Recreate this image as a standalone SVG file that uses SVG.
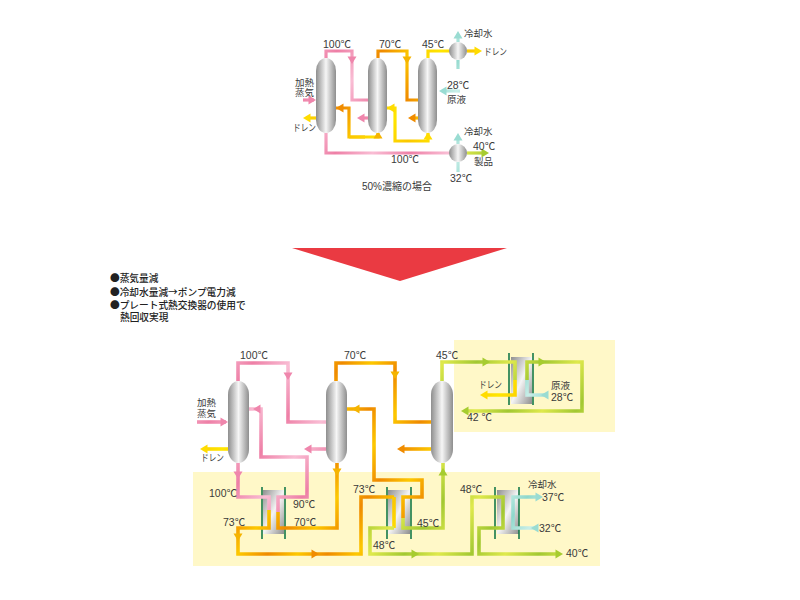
<svg xmlns="http://www.w3.org/2000/svg" width="800" height="600" viewBox="0 0 800 600">
<style>
text{font-family:"Liberation Sans","Noto Sans CJK JP",sans-serif;font-size:10.5px;fill:#3a3a3a}
.j{font-family:"Noto Sans CJK JP",sans-serif;font-size:9.5px}
.k{font-family:"Noto Sans CJK JP",sans-serif;font-size:9.5px}
.b{font-family:"Noto Sans CJK JP",sans-serif;font-size:9.7px;font-weight:500;fill:#222}
path.l{fill:none;stroke-width:3.2}
#lower path.l{stroke-width:3.6}
.p{stroke:url(#gp)}.o{stroke:url(#go)}.y{stroke:url(#gy)}.g{stroke:url(#gg)}.t{stroke:url(#gt)}
.fp{fill:#ef86ac}.fo{fill:#f08c00}.fy{fill:#ffdc00}.fg{fill:#a6cc30}.ft{fill:#9adcd2}.fa{fill:#f5b400}
.col{fill:url(#metal)}
.plate{fill:url(#plate)}
.bar{stroke:#16794a;stroke-width:1.6}
.bg{fill:#fff8c8}
</style>
<defs>
<linearGradient id="metal" x1="0" x2="1" y1="0" y2="0"><stop offset="0" stop-color="#8e8e8e"/><stop offset=".5" stop-color="#f6f6f6"/><stop offset="1" stop-color="#8e8e8e"/></linearGradient>
<linearGradient id="plate" x1="0" x2="1" y1="0" y2="1"><stop offset="0" stop-color="#8f8f8f"/><stop offset=".5" stop-color="#f4f4f4"/><stop offset="1" stop-color="#8f8f8f"/></linearGradient>
<linearGradient id="gp" gradientUnits="userSpaceOnUse" x1="0" y1="0" x2="24" y2="18" spreadMethod="reflect"><stop offset="0" stop-color="#ee7fa6"/><stop offset="1" stop-color="#f9bdd4"/></linearGradient>
<linearGradient id="go" gradientUnits="userSpaceOnUse" x1="0" y1="0" x2="20" y2="14" spreadMethod="reflect"><stop offset="0" stop-color="#ef8a00"/><stop offset="1" stop-color="#fdc800"/></linearGradient>
<linearGradient id="gy" gradientUnits="userSpaceOnUse" x1="0" y1="0" x2="20" y2="14" spreadMethod="reflect"><stop offset="0" stop-color="#ffe600"/><stop offset="1" stop-color="#fbc800"/></linearGradient>
<linearGradient id="gg" gradientUnits="userSpaceOnUse" x1="0" y1="0" x2="22" y2="16" spreadMethod="reflect"><stop offset="0" stop-color="#a2c832"/><stop offset="1" stop-color="#dfe94c"/></linearGradient>
<linearGradient id="gt" gradientUnits="userSpaceOnUse" x1="0" y1="0" x2="16" y2="12" spreadMethod="reflect"><stop offset="0" stop-color="#8fd8cc"/><stop offset="1" stop-color="#c8eee8"/></linearGradient>
<path id="ah" d="M-3.5,-4.5 L4,0 L-3.5,4.5z"/>
</defs>
<rect width="800" height="600" fill="#fff"/>
<rect class="bg" x="454" y="340" width="161" height="92"/>
<rect class="bg" x="193" y="472" width="407" height="94"/>
<polygon points="292,248 507,248 400,281" fill="#ea3a42"/>

<g id="hx-top"><rect class="plate" x="511" y="357" width="21" height="47"/><path class="bar" d="M509,353V405M533,353V405"/></g>
<g id="hx-1"><rect class="plate" x="263" y="490" width="21" height="44"/><path class="bar" d="M262,487V539M285,487V539"/></g>
<g id="hx-2"><rect class="plate" x="388" y="490" width="22" height="44"/><path class="bar" d="M387,487V539M411,487V539"/></g>
<g id="hx-3"><rect class="plate" x="497" y="490" width="22" height="44"/><path class="bar" d="M495,487V539M519,487V539"/></g>

<g id="connectors">
<g id="upper">
<path class="l p" d="M326,58V51H352V100H368"/>
<path class="l o" d="M378,58V51H407V100H418"/>
<path class="l y" d="M428,58V51H450"/>
<path class="l y" d="M467,51H478"/>
<path class="l t" d="M458,42V36"/><path class="l t" d="M458,60V69"/>
<path class="l t" d="M460,91H442"/>
<path class="l p" d="M303,100H314"/>
<path class="l y" d="M316,118H306"/>
<path class="l o" d="M336,108H349V137H365"/><path class="l y" d="M349,137H378V133"/>
<path class="l p" d="M368,118H360"/>
<path class="l y" d="M387,108H395V141H428V133"/>
<path class="l o" d="M418,118H411"/>
<path class="l p" d="M326,133V153H450"/>
<path class="l g" d="M467,153H485"/>
<path class="l t" d="M458,172V162"/><path class="l t" d="M458,144V137"/>
<use href="#ah" class="fp" transform="translate(352,60) rotate(90)"/>
<use href="#ah" class="fa" transform="translate(407,60) rotate(90)"/>
<use href="#ah" class="fy" transform="translate(478,51)"/>
<use href="#ah" class="ft" transform="translate(458,35) rotate(-90)"/>
<use href="#ah" class="ft" transform="translate(443,91) rotate(180)"/>
<use href="#ah" class="fp" transform="translate(312,100)"/>
<use href="#ah" class="fy" transform="translate(307,118) rotate(180)"/>
<use href="#ah" class="fo" transform="translate(340,108) rotate(180)"/>
<use href="#ah" class="fa" transform="translate(378,135) rotate(-90)"/>
<use href="#ah" class="fp" transform="translate(361,118) rotate(180)"/>
<use href="#ah" class="fy" transform="translate(391,108) rotate(180)"/>
<use href="#ah" class="fy" transform="translate(428,136) rotate(-90)"/>
<use href="#ah" class="fo" transform="translate(412,118) rotate(180)"/>
<use href="#ah" class="fg" transform="translate(485,153)"/>
<use href="#ah" class="ft" transform="translate(458,137) rotate(-90)"/>
</g>
<g id="lower">
<path class="l p" d="M238,381V363H288V422H326"/>
<path class="l o" d="M336,381V363H395V422H431"/>
<path class="l g" d="M442,381V362H515V380"/><path class="l y" d="M515,380V395H484"/>
<path class="l t" d="M545,395H527V380"/><path class="l g" d="M527,380V362H582V411H466"/>
<path class="l p" d="M197,422H226"/>
<path class="l y" d="M228,449H205"/>
<path class="l p" d="M249,409H261V457H307V497H278V512"/>
<path class="l o" d="M278,512V528H337V463"/>
<path class="l p" d="M326,449H308"/>
<path class="l o" d="M431,449H400"/>
<path class="l p" d="M238,463V497H269V510"/>
<path class="l o" d="M269,510V528H238V554H361V497H394"/>
<path class="l y" d="M394,497V528"/>
<path class="l g" d="M394,528H370V554H472V497H503V528H479V554H557"/>
<path class="l o" d="M347,409H374V480H422V497H403V518"/>
<path class="l g" d="M403,518V528H443V463"/>
<path class="l t" d="M537,497H513V528H537"/>
<use href="#ah" class="fp" transform="translate(288,376) rotate(90)"/>
<use href="#ah" class="fa" transform="translate(395,375) rotate(90)"/>
<use href="#ah" class="fg" transform="translate(486,362)"/>
<use href="#ah" class="fg" transform="translate(542,362)"/>
<use href="#ah" class="fy" transform="translate(484,395) rotate(180)"/>
<use href="#ah" class="ft" transform="translate(545,395) rotate(180)"/>
<use href="#ah" class="fg" transform="translate(465,411) rotate(180)"/>
<use href="#ah" class="fp" transform="translate(224,422)"/>
<use href="#ah" class="fy" transform="translate(204,449) rotate(180)"/>
<use href="#ah" class="fp" transform="translate(257,409) rotate(180)"/>
<use href="#ah" class="fa" transform="translate(356,409) rotate(180)"/>
<use href="#ah" class="fp" transform="translate(308,449) rotate(180)"/>
<use href="#ah" class="fo" transform="translate(401,449) rotate(180)"/>
<use href="#ah" class="fp" transform="translate(238,475) rotate(90)"/>
<use href="#ah" class="fa" transform="translate(337,472) rotate(90)"/>
<use href="#ah" class="fg" transform="translate(443,472) rotate(-90)"/>
<use href="#ah" class="fa" transform="translate(238,537) rotate(90)"/>
<use href="#ah" class="fo" transform="translate(315,554)"/>
<use href="#ah" class="fg" transform="translate(415,554)"/>
<use href="#ah" class="fg" transform="translate(559,554)"/>
<use href="#ah" class="ft" transform="translate(539,497)"/>
<use href="#ah" class="ft" transform="translate(535,528) rotate(180)"/>
</g>
</g>

<g id="col-1"><rect class="col" x="316" y="58" width="20" height="75" rx="10" ry="13"/></g>
<g id="col-2"><rect class="col" x="368" y="58" width="19" height="75" rx="9.5" ry="13"/></g>
<g id="col-3"><rect class="col" x="418" y="58" width="19" height="75" rx="9.5" ry="13"/></g>
<g id="cond-1"><circle class="col" cx="458" cy="51" r="9"/></g>
<g id="cond-2"><circle class="col" cx="458" cy="153" r="9"/></g>
<g id="col-a"><rect class="col" x="228" y="381" width="21" height="82" rx="10.5" ry="14"/></g>
<g id="col-b"><rect class="col" x="326" y="381" width="21" height="82" rx="10.5" ry="14"/></g>
<g id="col-c"><rect class="col" x="431" y="381" width="22" height="82" rx="11" ry="14"/></g>

<g id="labels">
<text x="323" y="48">100℃</text><text x="379" y="48">70℃</text><text x="422" y="48">45℃</text>
<text class="j" x="464" y="37">冷却水</text><text class="k" x="484" y="55" textLength="23" lengthAdjust="spacingAndGlyphs">ドレン</text>
<text x="447" y="89">28℃</text><text class="j" x="447" y="103">原液</text>
<text class="j"><tspan x="295" y="86">加熱</tspan><tspan x="295" y="96">蒸気</tspan></text>
<text class="k" x="293" y="131" textLength="23" lengthAdjust="spacingAndGlyphs">ドレン</text>
<text class="j" x="464" y="135">冷却水</text><text x="473" y="150">40℃</text><text class="j" x="474" y="165">製品</text>
<text x="391" y="163">100℃</text><text x="450" y="182">32℃</text>
<text x="362" y="190"><tspan style="font-size:10px">50%</tspan><tspan class="j" style="font-size:10px">濃縮の場合</tspan></text>

<text class="b" x="110" y="282">●蒸気量減</text>
<text class="b" x="110" y="296">●冷却水量減→ポンプ電力減</text>
<text class="b"><tspan x="110" y="309">●プレート式熱交換器の使用で</tspan><tspan x="120" y="321">熱回収実現</tspan></text>

<text x="240" y="359">100℃</text><text x="344" y="359">70℃</text><text x="436" y="359">45℃</text>
<text class="j"><tspan x="197" y="406">加熱</tspan><tspan x="197" y="417">蒸気</tspan></text><text class="k" x="201" y="461" textLength="23" lengthAdjust="spacingAndGlyphs">ドレン</text>
<text class="k" x="479" y="388" textLength="23" lengthAdjust="spacingAndGlyphs">ドレン</text><text class="j" x="551" y="389">原液</text><text x="551" y="401">28℃</text><text x="467" y="421">42 ℃</text>
<text x="209" y="497">100℃</text><text x="293" y="508">90℃</text><text x="223" y="526">73℃</text><text x="294" y="526">70℃</text>
<text x="353" y="493">73℃</text><text x="373" y="549">48℃</text><text x="417" y="527">45℃</text><text x="460" y="493">48℃</text>
<text class="j" x="528" y="488">冷却水</text><text x="542" y="501">37℃</text><text x="539" y="532">32℃</text><text x="566" y="557">40℃</text>
</g>
</svg>
